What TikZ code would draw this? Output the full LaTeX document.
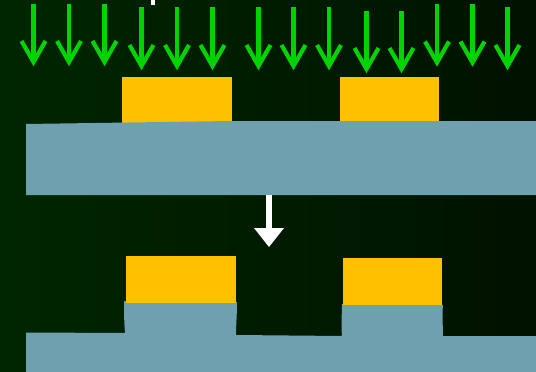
\documentclass[tikz,border=0pt]{standalone}
\definecolor{bgL}{RGB}{0,38,0}
\definecolor{bgR}{RGB}{0,18,0}
\definecolor{beam}{RGB}{0,212,0}
\definecolor{mask}{RGB}{255,192,0}
\definecolor{subst}{RGB}{111,160,176}
\tikzset{
  beamarrow/.style={draw=beam,line width=4.2pt,line join=miter,line cap=butt},
  maskbox/.style={fill=mask,draw=none},
  substrate/.style={fill=subst,draw=none},
}
\begin{document}
\begin{tikzpicture}[x=1pt,y=-1pt]
\useasboundingbox (0,0) rectangle (536,372);
\shade[left color=bgL,right color=bgR] (0,0) rectangle (536,372);
% small white mark at top
\fill[white] (151,0) rectangle (155,5);
% green beam arrows: x, top, tip
\foreach \i/\x/\t/\e in {1/33.5/3.5/66,2/69/3.5/66,3/104.5/3.5/66,4/141.5/6.5/70,5/177/6.5/70,6/212.5/6.5/70,7/258.5/6.5/70,8/293.5/6.5/70,9/329/6.5/70,10/366.5/10.5/73,11/401.5/10.5/73,12/437/3.5/66.5,13/472.5/3.5/66.5,14/507.5/6.5/70}{
  \coordinate (s\i) at (\x,\t);
  \coordinate (e\i) at (\x,\e-4);
  \coordinate (l\i) at (\x-12,\e-25);
  \coordinate (r\i) at (\x+12,\e-25);
  \draw[beamarrow] (s\i) -- (e\i);
  \draw[beamarrow] (l\i) -- (e\i) -- (r\i);
}
% top stage
\fill[maskbox] (122,77) rectangle (232,124);
\fill[maskbox] (340,77) rectangle (439,123);
\fill[substrate] (26,124) -- (232,121) -- (536,121) -- (536,195) -- (26,195) -- cycle;
% white process arrow
\coordinate (ws) at (269,195);
\coordinate (we) at (269,247);
\fill[white] (266,195) rectangle (272,229);
\fill[white] (254,228) -- (284,228) -- (we) -- cycle;
% bottom stage
\fill[substrate] (26,372) -- (26,332.5) -- (125,333)
  .. controls (124,320) and (124,310) .. (124,301)
  -- (237,302)
  .. controls (237,315) and (236,325) .. (236,335)
  -- (342,336)
  .. controls (341,325) and (342,312) .. (342,304)
  -- (443,305)
  .. controls (442,315) and (443,328) .. (443,336)
  -- (536,336) -- (536,372) -- cycle;
\fill[maskbox] (126,256) rectangle (236,303);
\fill[maskbox] (343,258) rectangle (442,305);
\end{tikzpicture}
\end{document}
